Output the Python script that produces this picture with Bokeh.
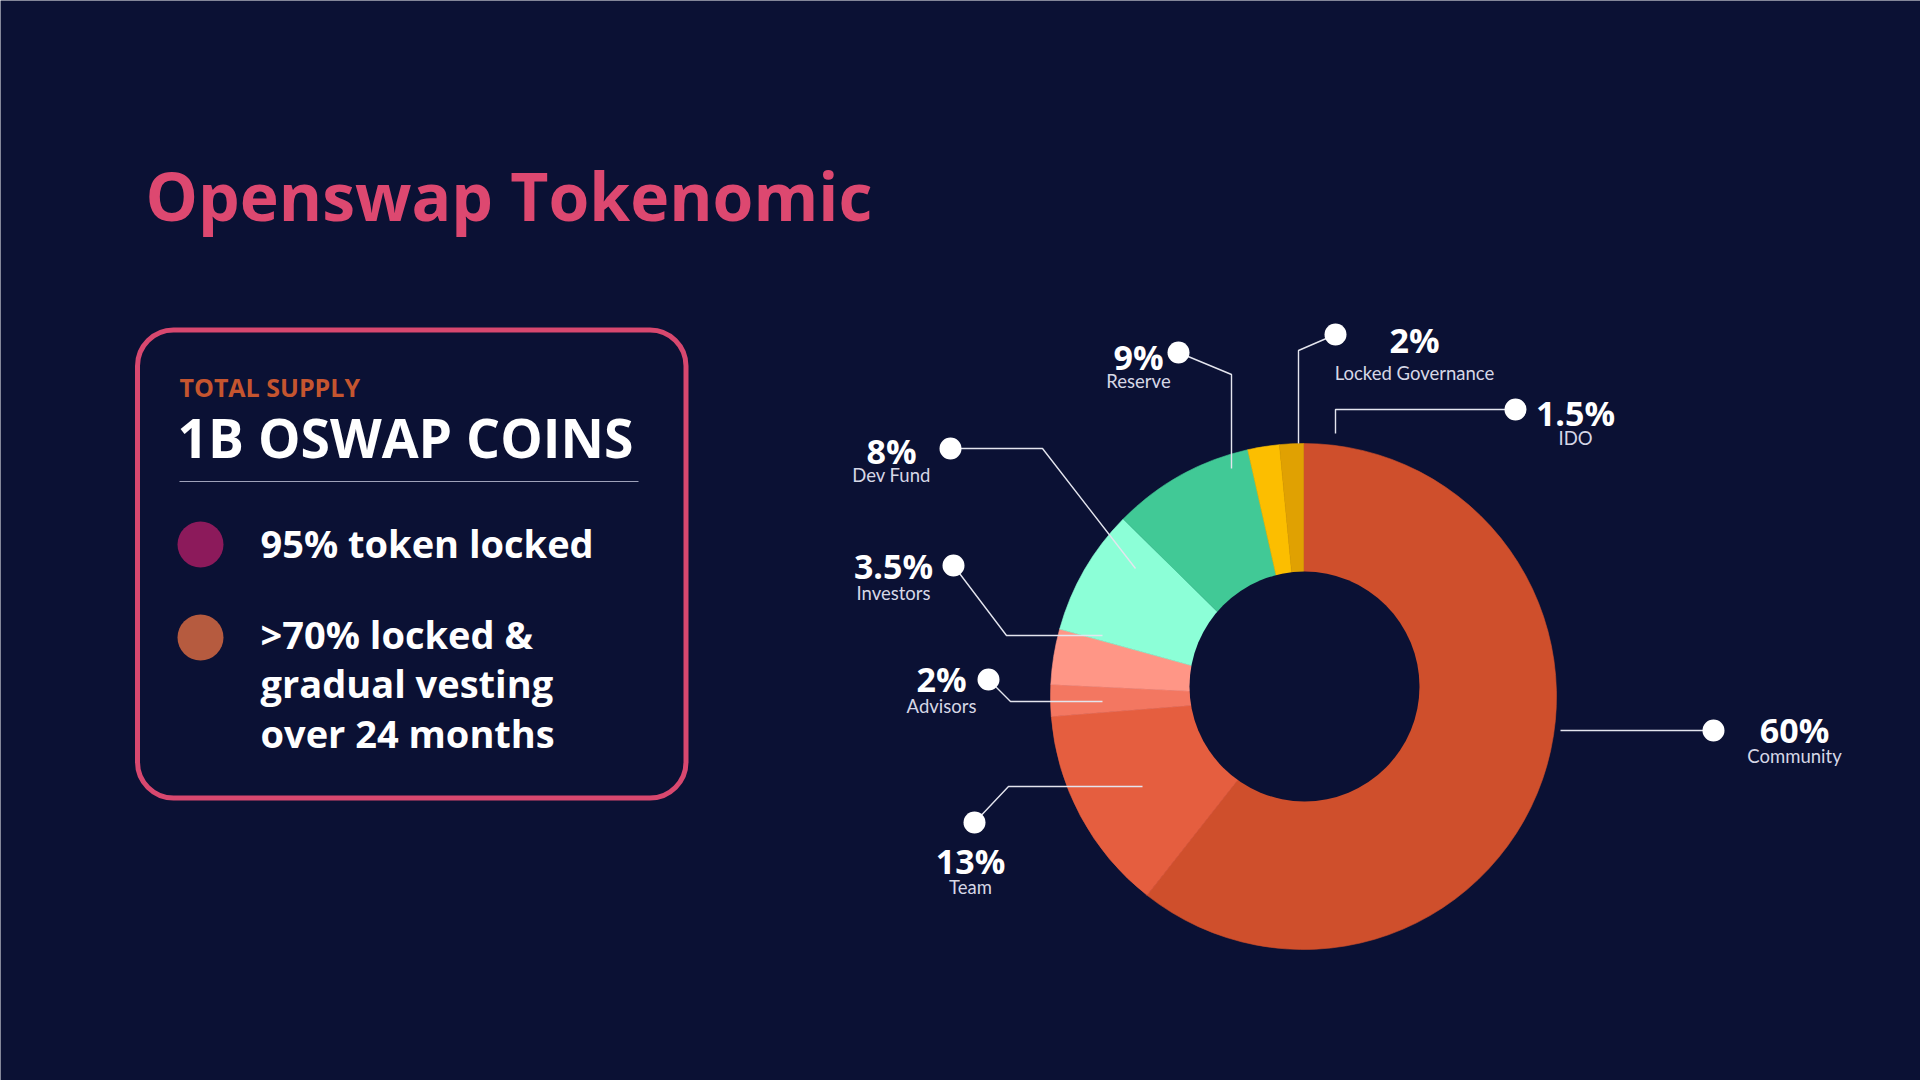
import math
from bokeh.plotting import figure
from bokeh.models import ColumnDataSource, BoxAnnotation, Range1d
from bokeh.core.properties import value
from bokeh.embed import file_html
from bokeh.resources import INLINE

# ---------------- data ----------------
categories = ["Community", "Team", "Advisors", "Investors", "Dev Fund",
              "Reserve", "Locked Governance", "IDO"]
shares = [60, 13, 2, 3.5, 8, 9, 2, 1.5]
slice_colors = ["#CF4F2C", "#E55E3F", "#F37761", "#FF9686", "#8CFFD7",
                "#41C996", "#FCBE00", "#E0A102"]
pct_labels = ["60%", "13%", "2%", "3.5%", "8%", "9%", "2%", "1.5%"]

title_text = "Openswap Tokenomic"
supply_caption = "TOTAL SUPPLY"
supply_value = "1B OSWAP COINS"
legend_items = ["95% token locked", ">70% locked &", "gradual vesting", "over 24 months"]
legend_colors = ["#8C1A5B", "#B65B3F"]

# ---------------- layout (screen px, y down) ----------------
W, H = 1920, 1080
BG = "#0B1134"
BOLD = "Open Sans"
LIGHT = "Lato"
SHIFT = 0.38  # compensation for rendered baseline offset (em)

def Y(y):
    return H - y

def base(y, size):
    return Y(y - SHIFT * size)

CX, CY, R_OUT = 1303, 696, 253
HOLE_X, HOLE_Y, R_IN = 1304, 686, 115

label_pos = {
    "Community": (1794, 742, 763),
    "Team": (970, 873, 894),
    "Advisors": (941, 691, 713),
    "Investors": (893, 578, 600),
    "Dev Fund": (891, 463, 482),
    "Reserve": (1138, 369, 388),
    "Locked Governance": (1414, 352, 380),
    "IDO": (1575, 425, 445),
}
leaders = {
    "Community": [(1560, 730), (1713, 730)],
    "Team": [(974, 822), (1008, 786), (1142, 786)],
    "Advisors": [(988, 679), (1010, 701), (1102, 701)],
    "Investors": [(953, 565), (1006, 635), (1102, 635)],
    "Dev Fund": [(950, 448), (1042, 448), (1135, 568)],
    "Reserve": [(1178, 352), (1231, 374), (1231, 468)],
    "Locked Governance": [(1335, 334), (1298, 350), (1298, 443)],
    "IDO": [(1515, 409), (1335, 409), (1335, 433)],
}
dot_pos = {
    "Community": (1713, 730), "Team": (974, 822), "Advisors": (988, 679),
    "Investors": (953, 565), "Dev Fund": (950, 448), "Reserve": (1178, 352),
    "Locked Governance": (1335, 334), "IDO": (1515, 409),
}

p = figure(width=W, height=H, x_range=Range1d(0, W), y_range=Range1d(0, H),
           output_backend="svg", toolbar_location=None, min_border=0)
p.axis.visible = False
p.grid.visible = False
p.outline_line_color = None
p.background_fill_color = BG
p.border_fill_color = BG

# ---------------- donut ----------------
total = sum(shares)
starts, ends = [], []
acc = 0.0
for v in shares:
    a0 = math.pi / 2 - 2 * math.pi * acc / total
    acc += v
    a1 = math.pi / 2 - 2 * math.pi * acc / total
    starts.append(a1)
    ends.append(a0)
src = ColumnDataSource(dict(start=starts, end=ends, color=slice_colors,
                            x=[CX] * len(shares), y=[Y(CY)] * len(shares)))
p.wedge(x="x", y="y", radius=R_OUT, start_angle="start", end_angle="end",
        fill_color="color", line_color="color", line_width=0.6, source=src)
p.circle(x=[HOLE_X], y=[Y(HOLE_Y)], radius=R_IN, fill_color=BG, line_color=None)

# ---------------- leaders, dots, labels ----------------
xs = [[pt[0] for pt in leaders[c]] for c in categories]
ys = [[Y(pt[1]) for pt in leaders[c]] for c in categories]
p.multi_line(xs=xs, ys=ys, line_color="#E4E5EE", line_width=1.4)
p.circle(x=[dot_pos[c][0] for c in categories], y=[Y(dot_pos[c][1]) for c in categories],
         radius=11, fill_color="white", line_color=None)

PCT = 34
SUB = 18.5
p.text(x=[label_pos[c][0] for c in categories],
       y=[base(label_pos[c][1], PCT) for c in categories],
       text=pct_labels, text_align="center", text_baseline="alphabetic",
       text_font=value(BOLD), text_font_style="bold", text_font_size=f"{PCT}px",
       text_color="white")
p.text(x=[label_pos[c][0] for c in categories],
       y=[base(label_pos[c][2], SUB) for c in categories],
       text=categories, text_align="center", text_baseline="alphabetic",
       text_font=value(LIGHT), text_font_size=f"{SUB}px", text_color="#D6D7E6")

# ---------------- title ----------------
p.text(x=[145], y=[base(220, 66)], text=[title_text], text_baseline="alphabetic",
       text_font=value(BOLD), text_font_style="bold", text_font_size="66px",
       text_color="#DD4870")

# ---------------- supply box ----------------
box = BoxAnnotation(left=137, right=685.5, bottom=Y(797.5), top=Y(329.5),
                    fill_alpha=0, line_color="#D8486F", line_alpha=1.0, line_width=5,
                    border_radius=36)
p.add_layout(box)
p.text(x=[179], y=[base(396, 25)], text=[supply_caption], text_baseline="alphabetic",
       text_font=value(BOLD), text_font_style="bold", text_font_size="25px",
       text_color="#C5552F")
p.text(x=[177], y=[base(457, 53.5)], text=[supply_value], text_baseline="alphabetic",
       text_font=value(BOLD), text_font_style="bold", text_font_size="53.5px",
       text_color="white")
p.line(x=[179, 638], y=[Y(481), Y(481)], line_color="#9FA2BA", line_width=1.2)

p.circle(x=[200, 200], y=[Y(544), Y(637)], radius=23, fill_color=legend_colors,
         line_color=None)
LEG = 38
p.text(x=[260] * 4, y=[base(557, LEG), base(648, LEG), base(697, LEG), base(747, LEG)],
       text=legend_items, text_baseline="alphabetic", text_font=value(BOLD),
       text_font_style="bold", text_font_size=f"{LEG}px", text_color="white")

open("out.html", "w").write(file_html(p, INLINE))
